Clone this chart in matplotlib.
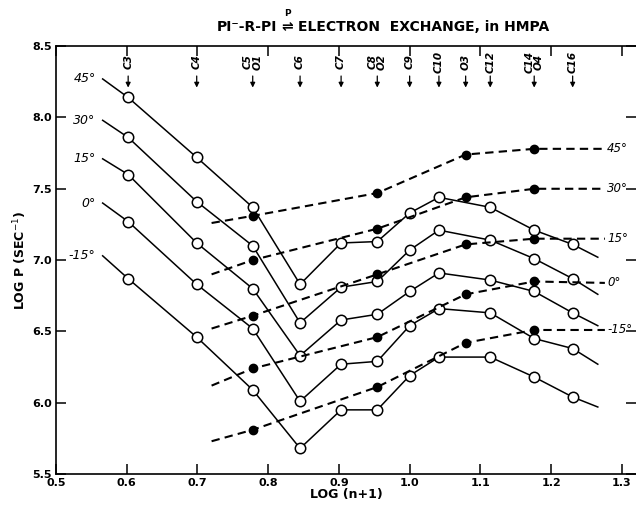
import numpy as np
import matplotlib.pyplot as plt

# chain length n of the carbon bridges (open circles) and oxygen bridges (filled)
carbon_n = [3, 4, 5, 6, 7, 8, 9, 10, 12, 14, 16]
oxygen_n = [5, 8, 11, 14]
temps = ["45°", "30°", "15°", "0°", "-15°"]

# log P for carbon-bridged compounds, one list per temperature
logp_c_45 = [8.14, 7.72, 7.37, 6.83, 7.12, 7.13, 7.33, 7.44, 7.37, 7.21, 7.11]
logp_c_30 = [7.86, 7.41, 7.10, 6.56, 6.81, 6.85, 7.07, 7.21, 7.14, 7.01, 6.87]
logp_c_15 = [7.60, 7.12, 6.80, 6.33, 6.58, 6.62, 6.78, 6.91, 6.86, 6.78, 6.63]
logp_c_0 = [7.27, 6.83, 6.52, 6.01, 6.27, 6.29, 6.54, 6.66, 6.63, 6.45, 6.38]
logp_c_m15 = [6.87, 6.46, 6.09, 5.68, 5.95, 5.95, 6.19, 6.32, 6.32, 6.18, 6.04]

# log P for oxygen-bridged compounds
logp_o_45 = [7.31, 7.47, 7.74, 7.78]
logp_o_30 = [7.00, 7.22, 7.44, 7.50]
logp_o_15 = [6.61, 6.90, 7.11, 7.15]
logp_o_0 = [6.24, 6.46, 6.76, 6.85]
logp_o_m15 = [5.81, 6.11, 6.42, 6.51]

# where the drawn curves begin and end
solid_x = [0.566, 1.266]
solid_start = [8.27, 7.98, 7.71, 7.40, 7.03]
solid_end = [7.02, 6.76, 6.54, 6.27, 5.97]
dash_x = [0.72, 1.276]
dash_start = [7.26, 6.90, 6.52, 6.12, 5.73]
dash_end = [7.78, 7.50, 7.15, 6.84, 6.51]

arrow_labels = ["C3", "C4", "C5\nO1", "C6", "C7", "C8\nO2", "C9", "C10", "O3", "C12", "C14\nO4", "C16"]
arrow_n = [3, 4, 5, 6, 7, 8, 9, 10, 11, 12, 14, 16]

carbon_series = [logp_c_45, logp_c_30, logp_c_15, logp_c_0, logp_c_m15]
oxygen_series = [logp_o_45, logp_o_30, logp_o_15, logp_o_0, logp_o_m15]

xc = np.log10(np.array(carbon_n) + 1)
xo = np.log10(np.array(oxygen_n) + 1)

fig = plt.figure(figsize=(6.36, 5.07), dpi=100)
ax = fig.add_axes([0.088, 0.065, 0.912, 0.844])
ax.set_xlim(0.5, 1.32)
ax.set_ylim(5.5, 8.5)

for i, ys in enumerate(carbon_series):
    lx = np.concatenate([[solid_x[0]], xc, [solid_x[1]]])
    ly = np.concatenate([[solid_start[i]], ys, [solid_end[i]]])
    ax.plot(lx, ly, "-", color="black", lw=1.1, zorder=2)
    ax.plot(xc, ys, "o", ms=7.5, mfc="white", mec="black", mew=1.1, zorder=3)
    ax.text(0.556, solid_start[i], temps[i], ha="right", va="center",
            fontsize=9, style="italic")

for i, ys in enumerate(oxygen_series):
    lx = np.concatenate([[dash_x[0]], xo, [dash_x[1]]])
    ly = np.concatenate([[dash_start[i]], ys, [dash_end[i]]])
    ax.plot(lx, ly, color="black", lw=1.5, dashes=(4, 2.5), zorder=4)
    ax.plot(xo, ys, "o", ms=6, color="black", zorder=5)
    ax.text(1.279, dash_end[i], temps[i], ha="left", va="center",
            fontsize=8.5, style="italic")

# compound markers along the top
for lab, n in zip(arrow_labels, arrow_n):
    x = np.log10(n + 1)
    ax.text(x, 8.39, lab, rotation=90, ha="center", va="center",
            fontsize=7.5, style="italic", fontweight="bold", linespacing=0.9)
    ax.annotate("", xy=(x, 8.19), xytext=(x, 8.31),
                arrowprops=dict(arrowstyle="-|>", color="black", lw=0.9,
                                mutation_scale=7))

ax.set_xticks(np.arange(0.5, 1.31, 0.1))
ax.set_yticks(np.arange(5.5, 8.51, 0.5))
ax.set_xticklabels([f"{v:.1f}" for v in np.arange(0.5, 1.31, 0.1)], fontweight="bold")
ax.set_yticklabels([f"{v:.1f}" for v in np.arange(5.5, 8.51, 0.5)], fontweight="bold")
ax.tick_params(direction="in", length=7, width=1.1, labelsize=8,
               top=True, right=True, pad=3)
ax.spines["right"].set_visible(False)
for s in ["left", "bottom", "top"]:
    ax.spines[s].set_linewidth(1.2)

ax.set_xlabel("LOG (n+1)", fontsize=9, fontweight="bold", labelpad=0)
ax.set_ylabel("LOG P (SEC$^{-1}$)", fontsize=9, fontweight="bold", labelpad=2)

# title with the small P above the equilibrium arrow
ty = 1 - 27 / 507
ax_x = 287 / 636
fig.text(ax_x - 0.016, ty, "PI⁻-R-PI", ha="right", va="center", fontsize=10, fontweight="bold")
fig.text(ax_x, ty, "⇌", ha="center", va="center", fontsize=10, fontweight="bold")
fig.text(ax_x + 0.017, ty, "ELECTRON  EXCHANGE, in HMPA", ha="left", va="center",
         fontsize=10, fontweight="bold")
fig.text(ax_x, ty + 0.026, "P", ha="center", va="center", fontsize=6.5, fontweight="bold")

fig.savefig("out.png", dpi=100)
